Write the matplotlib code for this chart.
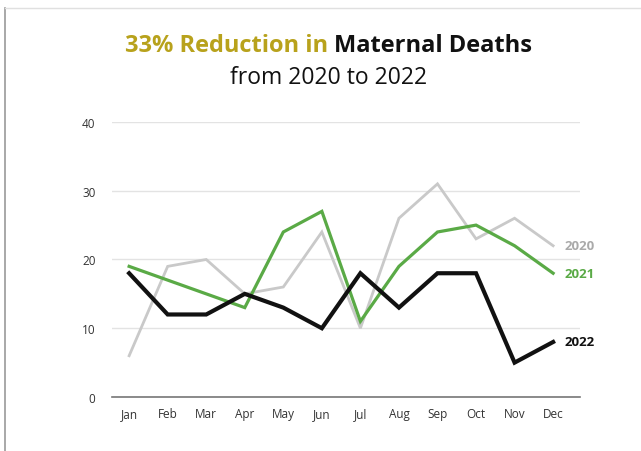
import matplotlib
matplotlib.use("Agg")
import matplotlib.pyplot as plt
from matplotlib.lines import Line2D

months = ["Jan", "Feb", "Mar", "Apr", "May", "Jun", "Jul", "Aug", "Sep", "Oct", "Nov", "Dec"]
deaths_2020 = [6, 19, 20, 15, 16, 24, 10, 26, 31, 23, 26, 22]
deaths_2021 = [19, 17, 15, 13, 24, 27, 11, 19, 24, 25, 22, 18]
deaths_2022 = [18, 12, 12, 15, 13, 10, 18, 13, 18, 18, 5, 8]

series = [
    ("2020", deaths_2020, "#c9c9c9", 2.0),
    ("2021", deaths_2021, "#5aaa46", 2.3),
    ("2022", deaths_2022, "#111111", 3.0),
]

plt.rcParams["font.family"] = ["Open Sans", "DejaVu Sans"]

fig = plt.figure(figsize=(6.41, 4.52), dpi=100)
ax = fig.add_axes([0.175, 0.1195, 0.73, 0.6084])

x = list(range(len(months)))
for label, vals, color, lw in series:
    ax.plot(x, vals, color=color, lw=lw, solid_joinstyle="miter", zorder=3)
    ax.text(x[-1] + 0.3, vals[-1], label, color=color if label != "2020" else "#aaaaaa",
            fontsize=9.5, fontweight="bold", va="center", ha="left", clip_on=False)

ax.set_xlim(-0.44, 11.7)
ax.set_ylim(0, 40)
ax.set_yticks([0, 10, 20, 30, 40])
ax.set_xticks(x)
ax.set_xticklabels(months)
ax.grid(axis="y", color="#e3e3e3", lw=1)
ax.set_axisbelow(True)
for s in ["top", "right", "left"]:
    ax.spines[s].set_visible(False)
ax.spines["bottom"].set_color("#777777")
ax.spines["bottom"].set_linewidth(1.2)
ax.tick_params(length=0, labelsize=8.5, colors="#333333", pad=7)
ax.tick_params(axis="y", pad=12)

# title in two colours
fig.canvas.draw()
r = fig.canvas.get_renderer()
t1 = fig.text(0, 0.898, "33% Reduction in ", fontsize=17, fontweight="bold", color="#b8a21c", va="center")
t2 = fig.text(0, 0.898, "Maternal Deaths", fontsize=17, fontweight="bold", color="#111111", va="center")
w1 = t1.get_window_extent(r).width / fig.bbox.width
w2 = t2.get_window_extent(r).width / fig.bbox.width
start = 0.513 - (w1 + w2) / 2
t1.set_x(start)
t2.set_x(start + w1)
fig.text(0.513, 0.827, "from 2020 to 2022", fontsize=16.5, color="#111111", ha="center", va="center")

# faint frame at left and top
fig.add_artist(Line2D([0.008, 0.008], [0, 0.98], transform=fig.transFigure, color="#9a9a9a", lw=1.2))
fig.add_artist(Line2D([0.008, 1], [0.98, 0.98], transform=fig.transFigure, color="#e0e0e0", lw=1))

fig.savefig("out.png", dpi=100)
